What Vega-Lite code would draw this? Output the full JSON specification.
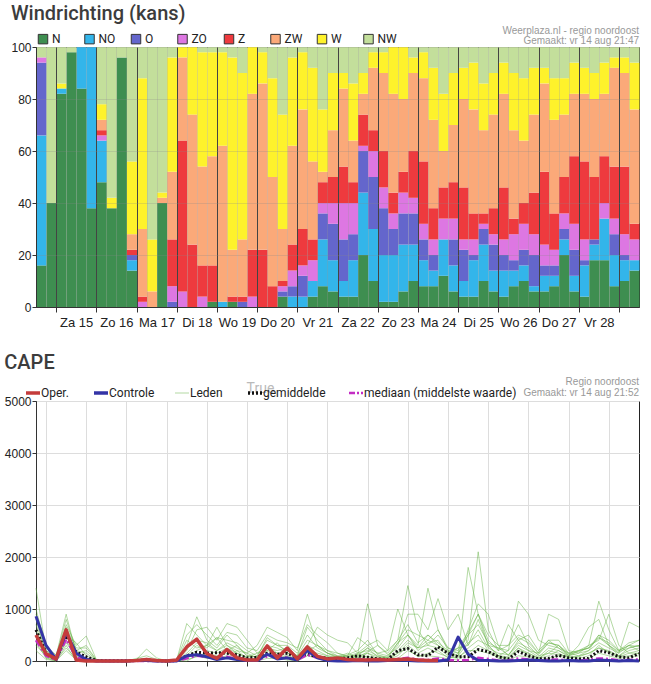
{
  "$schema": "https://vega.github.io/schema/vega-lite/v6.json",
  "background": "white",
  "padding": {"left": 3, "top": 3, "right": 10, "bottom": 3},
  "config": {
    "view": {"stroke": "#222", "strokeWidth": 1},
    "font": "Liberation Sans",
    "axis": {"labelFont": "Liberation Sans", "labelFontSize": 12, "labelColor": "#222", "domainColor": "#333", "tickColor": "#333", "tickSize": 4, "labelPadding": 1},
    "title": {"font": "Roboto", "fontSize": 20, "fontWeight": 500, "color": "#3c3c3c", "anchor": "start", "frame": "bounds"},
    "concat": {"spacing": 22}
  },
  "resolve": {"scale": {"color": "independent", "x": "independent", "y": "independent"}, "legend": {"color": "independent"}},
  "vconcat": [
    {
      "width": 603,
      "height": 260,
      "title": {"text": "Windrichting (kans)", "offset": 2},
      "layer": [
        {
          "data": {
            "values": [
              {"uur": 12, "N": 16, "NO": 50, "O": 28, "ZO": 2, "Z": 0, "ZW": 0, "W": 0, "NW": 4},
              {"uur": 18, "N": 40, "NO": 0, "O": 0, "ZO": 0, "Z": 0, "ZW": 0, "W": 0, "NW": 60},
              {"uur": 24, "N": 82, "NO": 2, "O": 0, "ZO": 0, "Z": 0, "ZW": 0, "W": 2, "NW": 14},
              {"uur": 30, "N": 98, "NO": 0, "O": 0, "ZO": 0, "Z": 0, "ZW": 0, "W": 0, "NW": 2},
              {"uur": 36, "N": 84, "NO": 16, "O": 0, "ZO": 0, "Z": 0, "ZW": 0, "W": 0, "NW": 0},
              {"uur": 42, "N": 38, "NO": 62, "O": 0, "ZO": 0, "Z": 0, "ZW": 0, "W": 0, "NW": 0},
              {"uur": 48, "N": 48, "NO": 16, "O": 0, "ZO": 2, "Z": 2, "ZW": 4, "W": 6, "NW": 22},
              {"uur": 54, "N": 38, "NO": 0, "O": 0, "ZO": 0, "Z": 0, "ZW": 0, "W": 4, "NW": 58},
              {"uur": 60, "N": 96, "NO": 0, "O": 0, "ZO": 0, "Z": 0, "ZW": 0, "W": 0, "NW": 4},
              {"uur": 66, "N": 14, "NO": 4, "O": 2, "ZO": 0, "Z": 2, "ZW": 6, "W": 28, "NW": 44},
              {"uur": 72, "N": 0, "NO": 0, "O": 0, "ZO": 2, "Z": 2, "ZW": 26, "W": 58, "NW": 12},
              {"uur": 78, "N": 0, "NO": 0, "O": 0, "ZO": 0, "Z": 0, "ZW": 6, "W": 20, "NW": 74},
              {"uur": 84, "N": 40, "NO": 0, "O": 0, "ZO": 0, "Z": 0, "ZW": 2, "W": 2, "NW": 56},
              {"uur": 90, "N": 0, "NO": 0, "O": 2, "ZO": 6, "Z": 18, "ZW": 26, "W": 44, "NW": 4},
              {"uur": 96, "N": 0, "NO": 0, "O": 0, "ZO": 6, "Z": 58, "ZW": 32, "W": 4, "NW": 0},
              {"uur": 102, "N": 0, "NO": 0, "O": 0, "ZO": 0, "Z": 24, "ZW": 50, "W": 26, "NW": 0},
              {"uur": 108, "N": 0, "NO": 0, "O": 0, "ZO": 4, "Z": 12, "ZW": 38, "W": 44, "NW": 2},
              {"uur": 114, "N": 2, "NO": 0, "O": 0, "ZO": 0, "Z": 14, "ZW": 42, "W": 40, "NW": 2},
              {"uur": 120, "N": 0, "NO": 2, "O": 0, "ZO": 0, "Z": 0, "ZW": 60, "W": 36, "NW": 2},
              {"uur": 126, "N": 2, "NO": 0, "O": 0, "ZO": 0, "Z": 2, "ZW": 18, "W": 74, "NW": 4},
              {"uur": 132, "N": 0, "NO": 0, "O": 2, "ZO": 0, "Z": 2, "ZW": 22, "W": 64, "NW": 10},
              {"uur": 138, "N": 0, "NO": 0, "O": 0, "ZO": 4, "Z": 18, "ZW": 60, "W": 18, "NW": 0},
              {"uur": 144, "N": 0, "NO": 0, "O": 0, "ZO": 0, "Z": 22, "ZW": 64, "W": 12, "NW": 2},
              {"uur": 150, "N": 0, "NO": 0, "O": 0, "ZO": 0, "Z": 8, "ZW": 42, "W": 38, "NW": 12},
              {"uur": 156, "N": 4, "NO": 0, "O": 2, "ZO": 2, "Z": 2, "ZW": 20, "W": 44, "NW": 26},
              {"uur": 162, "N": 0, "NO": 4, "O": 4, "ZO": 6, "Z": 10, "ZW": 38, "W": 34, "NW": 4},
              {"uur": 168, "N": 0, "NO": 4, "O": 8, "ZO": 4, "Z": 14, "ZW": 46, "W": 22, "NW": 2},
              {"uur": 174, "N": 4, "NO": 6, "O": 0, "ZO": 8, "Z": 8, "ZW": 30, "W": 36, "NW": 8},
              {"uur": 180, "N": 8, "NO": 18, "O": 10, "ZO": 4, "Z": 8, "ZW": 4, "W": 24, "NW": 24},
              {"uur": 186, "N": 6, "NO": 12, "O": 14, "ZO": 8, "Z": 10, "ZW": 18, "W": 22, "NW": 10},
              {"uur": 192, "N": 4, "NO": 6, "O": 16, "ZO": 14, "Z": 14, "ZW": 30, "W": 6, "NW": 10},
              {"uur": 198, "N": 4, "NO": 14, "O": 10, "ZO": 12, "Z": 8, "ZW": 16, "W": 22, "NW": 14},
              {"uur": 204, "N": 20, "NO": 24, "O": 16, "ZO": 2, "Z": 12, "ZW": 8, "W": 8, "NW": 10},
              {"uur": 210, "N": 10, "NO": 20, "O": 20, "ZO": 10, "Z": 8, "ZW": 24, "W": 6, "NW": 2},
              {"uur": 216, "N": 2, "NO": 18, "O": 18, "ZO": 8, "Z": 14, "ZW": 30, "W": 8, "NW": 2},
              {"uur": 222, "N": 2, "NO": 18, "O": 10, "ZO": 6, "Z": 8, "ZW": 38, "W": 18, "NW": 0},
              {"uur": 228, "N": 6, "NO": 18, "O": 12, "ZO": 8, "Z": 8, "ZW": 28, "W": 20, "NW": 0},
              {"uur": 234, "N": 10, "NO": 14, "O": 12, "ZO": 6, "Z": 18, "ZW": 30, "W": 6, "NW": 4},
              {"uur": 240, "N": 8, "NO": 10, "O": 8, "ZO": 6, "Z": 24, "ZW": 32, "W": 10, "NW": 2},
              {"uur": 246, "N": 8, "NO": 6, "O": 6, "ZO": 6, "Z": 12, "ZW": 34, "W": 20, "NW": 8},
              {"uur": 252, "N": 12, "NO": 14, "O": 0, "ZO": 8, "Z": 12, "ZW": 14, "W": 22, "NW": 18},
              {"uur": 258, "N": 6, "NO": 10, "O": 10, "ZO": 8, "Z": 14, "ZW": 22, "W": 20, "NW": 10},
              {"uur": 264, "N": 4, "NO": 6, "O": 12, "ZO": 4, "Z": 20, "ZW": 34, "W": 12, "NW": 8},
              {"uur": 270, "N": 4, "NO": 14, "O": 2, "ZO": 6, "Z": 10, "ZW": 40, "W": 18, "NW": 6},
              {"uur": 276, "N": 10, "NO": 14, "O": 6, "ZO": 2, "Z": 4, "ZW": 32, "W": 18, "NW": 14},
              {"uur": 282, "N": 6, "NO": 8, "O": 10, "ZO": 4, "Z": 10, "ZW": 36, "W": 16, "NW": 10},
              {"uur": 288, "N": 4, "NO": 10, "O": 6, "ZO": 6, "Z": 20, "ZW": 36, "W": 12, "NW": 6},
              {"uur": 294, "N": 8, "NO": 6, "O": 4, "ZO": 10, "Z": 6, "ZW": 34, "W": 22, "NW": 10},
              {"uur": 300, "N": 10, "NO": 6, "O": 6, "ZO": 10, "Z": 8, "ZW": 24, "W": 24, "NW": 12},
              {"uur": 306, "N": 6, "NO": 2, "O": 12, "ZO": 8, "Z": 16, "ZW": 30, "W": 18, "NW": 8},
              {"uur": 312, "N": 6, "NO": 6, "O": 4, "ZO": 8, "Z": 28, "ZW": 34, "W": 6, "NW": 8},
              {"uur": 318, "N": 8, "NO": 4, "O": 4, "ZO": 6, "Z": 14, "ZW": 36, "W": 16, "NW": 12},
              {"uur": 324, "N": 20, "NO": 6, "O": 4, "ZO": 6, "Z": 14, "ZW": 24, "W": 14, "NW": 12},
              {"uur": 330, "N": 6, "NO": 6, "O": 10, "ZO": 10, "Z": 26, "ZW": 24, "W": 12, "NW": 6},
              {"uur": 336, "N": 4, "NO": 12, "O": 2, "ZO": 8, "Z": 30, "ZW": 26, "W": 10, "NW": 8},
              {"uur": 342, "N": 18, "NO": 6, "O": 2, "ZO": 0, "Z": 24, "ZW": 30, "W": 10, "NW": 10},
              {"uur": 348, "N": 18, "NO": 16, "O": 0, "ZO": 6, "Z": 18, "ZW": 24, "W": 12, "NW": 6},
              {"uur": 354, "N": 8, "NO": 12, "O": 8, "ZO": 6, "Z": 20, "ZW": 38, "W": 4, "NW": 4},
              {"uur": 360, "N": 10, "NO": 8, "O": 2, "ZO": 8, "Z": 26, "ZW": 36, "W": 6, "NW": 4},
              {"uur": 366, "N": 14, "NO": 4, "O": 0, "ZO": 8, "Z": 6, "ZW": 44, "W": 18, "NW": 6}
            ]
          },
          "transform": [
            {"fold": ["N", "NO", "O", "ZO", "Z", "ZW", "W", "NW"], "as": ["richting", "kans"]},
            {
              "lookup": "richting",
              "from": {
                "data": {"values": [
                  {"richting": "N", "volgorde": 1},
                  {"richting": "NO", "volgorde": 2},
                  {"richting": "O", "volgorde": 3},
                  {"richting": "ZO", "volgorde": 4},
                  {"richting": "Z", "volgorde": 5},
                  {"richting": "ZW", "volgorde": 6},
                  {"richting": "W", "volgorde": 7},
                  {"richting": "NW", "volgorde": 8}
                ]},
                "key": "richting",
                "fields": ["volgorde"]
              }
            }
          ],
          "mark": {"type": "bar", "binSpacing": 0},
          "encoding": {
            "x": {
              "field": "uur",
              "type": "quantitative",
              "bin": {"step": 6, "extent": [12, 372]},
              "title": null,
              "scale": {"domain": [12, 372], "nice": false, "zero": false},
              "axis": {
                "values": [18, 24, 30, 36, 42, 48, 54, 60, 66, 72, 78, 84, 90, 96, 102, 108, 114, 120, 126, 132, 138, 144, 150, 156, 162, 168, 174, 180, 186, 192, 198, 204, 210, 216, 222, 228, 234, 240, 246, 252, 258, 264, 270, 276, 282, 288, 294, 300, 306, 312, 318, 324, 330, 336, 342, 348, 354, 360, 366],
                "grid": true,
                "zindex": 1,
                "gridColor": {"condition": {"test": "datum.value % 24 == 0", "value": "#444"}, "value": "#888"},
                "gridOpacity": {"condition": {"test": "datum.value % 24 == 0", "value": 1}, "value": 0.25},
                "tickOpacity": {"condition": {"test": "datum.value % 24 == 0", "value": 1}, "value": 0},
                "tickSize": 5,
                "labelOverlap": false,
                "labelFlush": false,
                "labelPadding": 4,
                "labelFontSize": 13,
                "labelExpr": "datum.value % 24 == 12 ? ['Zo','Ma','Di','Wo','Do','Vr','Za'][(5 + floor(datum.value / 24)) % 7] + ' ' + (14 + floor(datum.value / 24)) : ''"
              }
            },
            "y": {
              "field": "kans",
              "type": "quantitative",
              "stack": "zero",
              "title": null,
              "scale": {"domain": [0, 100], "nice": false},
              "axis": {"values": [0, 10, 20, 30, 40, 50, 60, 70, 80, 90, 100], "grid": true, "zindex": 1, "gridColor": "#888", "gridOpacity": 0.25}
            },
            "order": {"field": "volgorde", "type": "quantitative", "sort": "ascending"},
            "color": {
              "field": "richting",
              "type": "nominal",
              "sort": ["N", "NO", "O", "ZO", "Z", "ZW", "W", "NW"],
              "scale": {
                "domain": ["N", "NO", "O", "ZO", "Z", "ZW", "W", "NW"],
                "range": ["#3e8e50", "#33b5ea", "#6466cc", "#dd77e2", "#ee3a3e", "#fba979", "#fef22b", "#c3df9b"]
              },
              "legend": {
                "title": null,
                "values": ["N", "NO", "O", "ZO", "Z", "ZW", "W", "NW"],
                "orient": "none",
                "legendX": 1,
                "legendY": -14,
                "direction": "horizontal",
                "columns": 8,
                "gridAlign": "all",
                "columnPadding": 10.5,
                "symbolType": "square",
                "symbolSize": 90,
                "symbolStrokeColor": "#333",
                "symbolStrokeWidth": 1,
                "symbolOpacity": 1,
                "labelFont": "Roboto",
                "labelFontSize": 12,
                "labelColor": "#222",
                "labelOffset": 3
              }
            }
          }
        },
        {
          "data": {"values": [{}]},
          "mark": {"type": "text", "align": "right", "baseline": "middle", "dy": -16, "font": "Liberation Sans", "fontSize": 10, "color": "#999"},
          "encoding": {
            "x": {"datum": 372},
            "y": {"datum": 100},
            "text": {"value": "Weerplaza.nl - regio noordoost"}
          }
        },
        {
          "data": {"values": [{}]},
          "mark": {"type": "text", "align": "right", "baseline": "middle", "dy": -6, "font": "Liberation Sans", "fontSize": 10, "color": "#999"},
          "encoding": {
            "x": {"datum": 372},
            "y": {"datum": 100},
            "text": {"value": "Gemaakt: vr 14 aug 21:47"}
          }
        }
      ]
    },
    {
      "width": 603,
      "height": 260,
      "title": {"text": "CAPE", "offset": 4},
      "layer": [
        {
          "data": {
            "values": [
              {"uur": 12, "oper": 500, "controle": 860, "gem": 600, "med": 400, "l1": 1400, "l2": 900, "l3": 600, "l4": 400, "l5": 300, "l6": 700, "l7": 500, "l8": 1000, "l9": 200, "l10": 800, "l11": 450, "l12": 350},
              {"uur": 18, "oper": 140, "controle": 300, "gem": 150, "med": 100, "l1": 200, "l2": 300, "l3": 150, "l4": 80, "l5": 100, "l6": 200, "l7": 50, "l8": 250, "l9": 30, "l10": 150, "l11": 120, "l12": 60},
              {"uur": 24, "oper": 40, "controle": 30, "gem": 30, "med": 20, "l1": 60, "l2": 100, "l3": 40, "l4": 20, "l5": 0, "l6": 80, "l7": 0, "l8": 120, "l9": 0, "l10": 50, "l11": 30, "l12": 10},
              {"uur": 30, "oper": 600, "controle": 550, "gem": 480, "med": 420, "l1": 700, "l2": 900, "l3": 500, "l4": 600, "l5": 400, "l6": 800, "l7": 300, "l8": 650, "l9": 200, "l10": 550, "l11": 350, "l12": 250},
              {"uur": 36, "oper": 20, "controle": 150, "gem": 170, "med": 60, "l1": 300, "l2": 150, "l3": 350, "l4": 100, "l5": 50, "l6": 200, "l7": 0, "l8": 250, "l9": 20, "l10": 200, "l11": 80, "l12": 40},
              {"uur": 42, "oper": 0, "controle": 30, "gem": 80, "med": 30, "l1": 480, "l2": 200, "l3": 100, "l4": 50, "l5": 30, "l6": 300, "l7": 0, "l8": 250, "l9": 0, "l10": 150, "l11": 60, "l12": 20},
              {"uur": 48, "oper": 0, "controle": 0, "gem": 10, "med": 0, "l1": 30, "l2": 20, "l3": 10, "l4": 0, "l5": 0, "l6": 20, "l7": 0, "l8": 30, "l9": 0, "l10": 10, "l11": 0, "l12": 0},
              {"uur": 54, "oper": 0, "controle": 0, "gem": 5, "med": 0, "l1": 0, "l2": 0, "l3": 0, "l4": 0, "l5": 0, "l6": 0, "l7": 0, "l8": 0, "l9": 0, "l10": 0, "l11": 0, "l12": 0},
              {"uur": 60, "oper": 0, "controle": 0, "gem": 5, "med": 0, "l1": 0, "l2": 0, "l3": 0, "l4": 0, "l5": 0, "l6": 0, "l7": 0, "l8": 0, "l9": 0, "l10": 0, "l11": 0, "l12": 0},
              {"uur": 66, "oper": 0, "controle": 0, "gem": 5, "med": 0, "l1": 10, "l2": 0, "l3": 0, "l4": 0, "l5": 0, "l6": 0, "l7": 0, "l8": 0, "l9": 0, "l10": 0, "l11": 0, "l12": 0},
              {"uur": 72, "oper": 10, "controle": 10, "gem": 10, "med": 0, "l1": 20, "l2": 30, "l3": 0, "l4": 0, "l5": 0, "l6": 0, "l7": 0, "l8": 50, "l9": 0, "l10": 0, "l11": 0, "l12": 0},
              {"uur": 78, "oper": 30, "controle": 10, "gem": 20, "med": 0, "l1": 50, "l2": 230, "l3": 20, "l4": 0, "l5": 0, "l6": 0, "l7": 0, "l8": 100, "l9": 0, "l10": 50, "l11": 20, "l12": 0},
              {"uur": 84, "oper": 10, "controle": 0, "gem": 5, "med": 0, "l1": 10, "l2": 60, "l3": 0, "l4": 0, "l5": 0, "l6": 0, "l7": 0, "l8": 30, "l9": 0, "l10": 0, "l11": 0, "l12": 0},
              {"uur": 90, "oper": 0, "controle": 0, "gem": 0, "med": 0, "l1": 0, "l2": 0, "l3": 0, "l4": 0, "l5": 0, "l6": 0, "l7": 0, "l8": 0, "l9": 0, "l10": 0, "l11": 0, "l12": 0},
              {"uur": 96, "oper": 20, "controle": 0, "gem": 10, "med": 0, "l1": 0, "l2": 20, "l3": 10, "l4": 0, "l5": 0, "l6": 0, "l7": 0, "l8": 30, "l9": 0, "l10": 0, "l11": 0, "l12": 0},
              {"uur": 102, "oper": 270, "controle": 100, "gem": 100, "med": 50, "l1": 300, "l2": 720, "l3": 200, "l4": 100, "l5": 50, "l6": 400, "l7": 0, "l8": 500, "l9": 30, "l10": 250, "l11": 150, "l12": 80},
              {"uur": 108, "oper": 420, "controle": 120, "gem": 170, "med": 100, "l1": 850, "l2": 500, "l3": 600, "l4": 300, "l5": 150, "l6": 250, "l7": 100, "l8": 700, "l9": 80, "l10": 400, "l11": 350, "l12": 200},
              {"uur": 114, "oper": 140, "controle": 80, "gem": 150, "med": 80, "l1": 400, "l2": 300, "l3": 650, "l4": 200, "l5": 100, "l6": 300, "l7": 50, "l8": 500, "l9": 150, "l10": 350, "l11": 250, "l12": 300},
              {"uur": 120, "oper": 50, "controle": 30, "gem": 160, "med": 60, "l1": 250, "l2": 650, "l3": 400, "l4": 150, "l5": 80, "l6": 450, "l7": 50, "l8": 300, "l9": 100, "l10": 200, "l11": 450, "l12": 200},
              {"uur": 126, "oper": 220, "controle": 60, "gem": 150, "med": 80, "l1": 500, "l2": 300, "l3": 720, "l4": 250, "l5": 150, "l6": 400, "l7": 100, "l8": 550, "l9": 60, "l10": 350, "l11": 200, "l12": 300},
              {"uur": 132, "oper": 60, "controle": 30, "gem": 120, "med": 40, "l1": 300, "l2": 200, "l3": 650, "l4": 150, "l5": 100, "l6": 350, "l7": 50, "l8": 500, "l9": 200, "l10": 250, "l11": 300, "l12": 150},
              {"uur": 138, "oper": 20, "controle": 10, "gem": 60, "med": 10, "l1": 100, "l2": 150, "l3": 400, "l4": 60, "l5": 30, "l6": 200, "l7": 0, "l8": 250, "l9": 50, "l10": 150, "l11": 100, "l12": 80},
              {"uur": 144, "oper": 20, "controle": 10, "gem": 70, "med": 10, "l1": 80, "l2": 300, "l3": 150, "l4": 50, "l5": 20, "l6": 100, "l7": 0, "l8": 200, "l9": 30, "l10": 60, "l11": 80, "l12": 150},
              {"uur": 150, "oper": 290, "controle": 130, "gem": 150, "med": 90, "l1": 450, "l2": 650, "l3": 200, "l4": 300, "l5": 100, "l6": 400, "l7": 50, "l8": 500, "l9": 150, "l10": 250, "l11": 200, "l12": 300},
              {"uur": 156, "oper": 60, "controle": 40, "gem": 130, "med": 110, "l1": 300, "l2": 550, "l3": 150, "l4": 250, "l5": 100, "l6": 300, "l7": 50, "l8": 400, "l9": 80, "l10": 200, "l11": 350, "l12": 150},
              {"uur": 162, "oper": 250, "controle": 60, "gem": 150, "med": 60, "l1": 200, "l2": 450, "l3": 100, "l4": 150, "l5": 80, "l6": 300, "l7": 20, "l8": 350, "l9": 50, "l10": 250, "l11": 150, "l12": 200},
              {"uur": 168, "oper": 40, "controle": 20, "gem": 60, "med": 20, "l1": 100, "l2": 200, "l3": 50, "l4": 80, "l5": 20, "l6": 150, "l7": 0, "l8": 250, "l9": 30, "l10": 100, "l11": 100, "l12": 60},
              {"uur": 174, "oper": 270, "controle": 200, "gem": 130, "med": 120, "l1": 650, "l2": 900, "l3": 300, "l4": 200, "l5": 150, "l6": 500, "l7": 100, "l8": 700, "l9": 250, "l10": 400, "l11": 300, "l12": 200},
              {"uur": 180, "oper": 90, "controle": 60, "gem": 80, "med": 60, "l1": 400, "l2": 300, "l3": 650, "l4": 150, "l5": 100, "l6": 250, "l7": 50, "l8": 500, "l9": 100, "l10": 300, "l11": 200, "l12": 300},
              {"uur": 186, "oper": 40, "controle": 10, "gem": 50, "med": 20, "l1": 200, "l2": 150, "l3": 500, "l4": 100, "l5": 50, "l6": 150, "l7": 20, "l8": 350, "l9": 80, "l10": 200, "l11": 100, "l12": 150},
              {"uur": 192, "oper": 60, "controle": 0, "gem": 40, "med": 10, "l1": 100, "l2": 80, "l3": 400, "l4": 50, "l5": 30, "l6": 60, "l7": 0, "l8": 150, "l9": 40, "l10": 150, "l11": 80, "l12": 100},
              {"uur": 198, "oper": 30, "controle": 0, "gem": 60, "med": 10, "l1": 80, "l2": 100, "l3": 350, "l4": 30, "l5": 20, "l6": 120, "l7": 0, "l8": 80, "l9": 20, "l10": 100, "l11": 150, "l12": 50},
              {"uur": 204, "oper": 20, "controle": 10, "gem": 100, "med": 30, "l1": 120, "l2": 450, "l3": 150, "l4": 100, "l5": 50, "l6": 200, "l7": 20, "l8": 120, "l9": 80, "l10": 150, "l11": 60, "l12": 100},
              {"uur": 210, "oper": 20, "controle": 0, "gem": 70, "med": 30, "l1": 1100, "l2": 300, "l3": 200, "l4": 250, "l5": 150, "l6": 400, "l7": 100, "l8": 250, "l9": 80, "l10": 300, "l11": 180, "l12": 150},
              {"uur": 216, "oper": 30, "controle": 0, "gem": 40, "med": 20, "l1": 300, "l2": 400, "l3": 100, "l4": 80, "l5": 40, "l6": 120, "l7": 20, "l8": 150, "l9": 50, "l10": 150, "l11": 300, "l12": 80},
              {"uur": 222, "oper": 20, "controle": 10, "gem": 30, "med": 10, "l1": 150, "l2": 200, "l3": 80, "l4": 50, "l5": 30, "l6": 60, "l7": 0, "l8": 200, "l9": 20, "l10": 100, "l11": 120, "l12": 60},
              {"uur": 228, "oper": 30, "controle": 20, "gem": 200, "med": 40, "l1": 400, "l2": 1000, "l3": 300, "l4": 200, "l5": 100, "l6": 350, "l7": 50, "l8": 400, "l9": 150, "l10": 350, "l11": 250, "l12": 150},
              {"uur": 234, "oper": 40, "controle": 10, "gem": 240, "med": 60, "l1": 1450, "l2": 500, "l3": 900, "l4": 400, "l5": 300, "l6": 500, "l7": 200, "l8": 700, "l9": 250, "l10": 600, "l11": 500, "l12": 350},
              {"uur": 240, "oper": 20, "controle": 0, "gem": 120, "med": 30, "l1": 600, "l2": 300, "l3": 900, "l4": 250, "l5": 150, "l6": 250, "l7": 100, "l8": 350, "l9": 80, "l10": 500, "l11": 200, "l12": 250},
              {"uur": 246, "oper": 10, "controle": 0, "gem": 100, "med": 20, "l1": 300, "l2": 1400, "l3": 600, "l4": 500, "l5": 250, "l6": 400, "l7": 100, "l8": 500, "l9": 150, "l10": 400, "l11": 350, "l12": 300},
              {"uur": 252, "oper": 10, "controle": 0, "gem": 270, "med": 50, "l1": 500, "l2": 600, "l3": 1200, "l4": 300, "l5": 150, "l6": 300, "l7": 80, "l8": 350, "l9": 200, "l10": 600, "l11": 400, "l12": 250},
              {"uur": 258, "controle": 20, "gem": 150, "med": 20, "l1": 250, "l2": 200, "l3": 600, "l4": 150, "l5": 80, "l6": 180, "l7": 40, "l8": 200, "l9": 60, "l10": 250, "l11": 120, "l12": 100},
              {"uur": 264, "controle": 460, "gem": 80, "med": 10, "l1": 150, "l2": 100, "l3": 900, "l4": 100, "l5": 50, "l6": 250, "l7": 20, "l8": 150, "l9": 80, "l10": 200, "l11": 250, "l12": 100},
              {"uur": 270, "controle": 130, "gem": 80, "med": 20, "l1": 400, "l2": 1800, "l3": 300, "l4": 600, "l5": 250, "l6": 550, "l7": 150, "l8": 500, "l9": 200, "l10": 500, "l11": 300, "l12": 350},
              {"uur": 276, "controle": 10, "gem": 220, "med": 60, "l1": 2100, "l2": 900, "l3": 800, "l4": 1100, "l5": 400, "l6": 900, "l7": 300, "l8": 700, "l9": 200, "l10": 900, "l11": 600, "l12": 500},
              {"uur": 282, "controle": 10, "gem": 180, "med": 40, "l1": 600, "l2": 400, "l3": 300, "l4": 900, "l5": 300, "l6": 300, "l7": 200, "l8": 350, "l9": 150, "l10": 500, "l11": 250, "l12": 200},
              {"uur": 288, "controle": 0, "gem": 80, "med": 10, "l1": 200, "l2": 200, "l3": 100, "l4": 300, "l5": 100, "l6": 250, "l7": 50, "l8": 250, "l9": 80, "l10": 300, "l11": 150, "l12": 100},
              {"uur": 294, "controle": 0, "gem": 40, "med": 10, "l1": 300, "l2": 700, "l3": 200, "l4": 100, "l5": 50, "l6": 120, "l7": 20, "l8": 200, "l9": 50, "l10": 300, "l11": 120, "l12": 80},
              {"uur": 300, "controle": 10, "gem": 180, "med": 50, "l1": 700, "l2": 400, "l3": 1150, "l4": 400, "l5": 200, "l6": 350, "l7": 100, "l8": 450, "l9": 250, "l10": 500, "l11": 300, "l12": 250},
              {"uur": 306, "controle": 20, "gem": 100, "med": 30, "l1": 300, "l2": 200, "l3": 900, "l4": 500, "l5": 150, "l6": 250, "l7": 80, "l8": 350, "l9": 100, "l10": 400, "l11": 200, "l12": 150},
              {"uur": 312, "controle": 10, "gem": 40, "med": 10, "l1": 100, "l2": 150, "l3": 400, "l4": 200, "l5": 50, "l6": 120, "l7": 20, "l8": 150, "l9": 40, "l10": 150, "l11": 80, "l12": 60},
              {"uur": 318, "controle": 0, "gem": 50, "med": 20, "l1": 150, "l2": 900, "l3": 300, "l4": 400, "l5": 100, "l6": 350, "l7": 50, "l8": 350, "l9": 200, "l10": 400, "l11": 250, "l12": 150},
              {"uur": 324, "controle": 0, "gem": 110, "med": 30, "l1": 300, "l2": 800, "l3": 250, "l4": 250, "l5": 200, "l6": 300, "l7": 100, "l8": 300, "l9": 150, "l10": 400, "l11": 200, "l12": 120},
              {"uur": 330, "controle": 10, "gem": 60, "med": 10, "l1": 100, "l2": 200, "l3": 100, "l4": 150, "l5": 80, "l6": 120, "l7": 40, "l8": 150, "l9": 60, "l10": 150, "l11": 100, "l12": 80},
              {"uur": 336, "controle": 0, "gem": 40, "med": 10, "l1": 200, "l2": 150, "l3": 300, "l4": 100, "l5": 50, "l6": 180, "l7": 20, "l8": 200, "l9": 100, "l10": 200, "l11": 150, "l12": 80},
              {"uur": 342, "controle": 0, "gem": 50, "med": 20, "l1": 300, "l2": 300, "l3": 650, "l4": 200, "l5": 100, "l6": 250, "l7": 50, "l8": 250, "l9": 150, "l10": 250, "l11": 200, "l12": 150},
              {"uur": 348, "controle": 20, "gem": 200, "med": 50, "l1": 1150, "l2": 400, "l3": 800, "l4": 500, "l5": 300, "l6": 450, "l7": 150, "l8": 450, "l9": 250, "l10": 500, "l11": 350, "l12": 250},
              {"uur": 354, "controle": 10, "gem": 160, "med": 40, "l1": 600, "l2": 900, "l3": 300, "l4": 300, "l5": 150, "l6": 300, "l7": 100, "l8": 350, "l9": 200, "l10": 400, "l11": 250, "l12": 180},
              {"uur": 360, "controle": 0, "gem": 80, "med": 10, "l1": 200, "l2": 300, "l3": 150, "l4": 100, "l5": 80, "l6": 180, "l7": 50, "l8": 200, "l9": 100, "l10": 200, "l11": 150, "l12": 80},
              {"uur": 366, "controle": 10, "gem": 60, "med": 20, "l1": 300, "l2": 150, "l3": 750, "l4": 250, "l5": 100, "l6": 250, "l7": 80, "l8": 300, "l9": 200, "l10": 350, "l11": 300, "l12": 150},
              {"uur": 372, "controle": 0, "gem": 140, "med": 30, "l1": 400, "l2": 200, "l3": 650, "l4": 300, "l5": 150, "l6": 300, "l7": 100, "l8": 280, "l9": 250, "l10": 400, "l11": 200, "l12": 150}
            ]
          },
          "transform": [{"fold": ["l1", "l2", "l3", "l4", "l5", "l6", "l7", "l8", "l9", "l10", "l11", "l12", "gem", "med", "controle", "oper"], "as": ["reeks", "cape"]}],
          "encoding": {
            "x": {
              "field": "uur",
              "type": "quantitative",
              "title": null,
              "scale": {"domain": [12, 372], "nice": false, "zero": false},
              "axis": {
                "values": [18, 24, 30, 36, 42, 48, 54, 60, 66, 72, 78, 84, 90, 96, 102, 108, 114, 120, 126, 132, 138, 144, 150, 156, 162, 168, 174, 180, 186, 192, 198, 204, 210, 216, 222, 228, 234, 240, 246, 252, 258, 264, 270, 276, 282, 288, 294, 300, 306, 312, 318, 324, 330, 336, 342, 348, 354, 360, 366],
                "grid": true,
                "gridColor": {"condition": {"test": "datum.value % 24 == 0", "value": "#555"}, "value": "#ddd"},
                "tickSize": 5,
                "labelOverlap": false,
                "labelFlush": false,
                "labelPadding": 4,
                "labelFontSize": 13,
                "labelExpr": "datum.value % 24 == 12 ? ['Zo','Ma','Di','Wo','Do','Vr','Za'][(5 + floor(datum.value / 24)) % 7] + ' ' + (14 + floor(datum.value / 24)) : ''"
              }
            },
            "y": {
              "field": "cape",
              "type": "quantitative",
              "title": null,
              "scale": {"domain": [0, 5000], "nice": false},
              "axis": {
                "values": [0, 250, 500, 750, 1000, 1250, 1500, 1750, 2000, 2250, 2500, 2750, 3000, 3250, 3500, 3750, 4000, 4250, 4500, 4750, 5000],
                "format": "d",
                "labelExpr": "datum.value % 500 == 0 ? datum.label : ''",
                "tickOpacity": {"condition": {"test": "datum.value % 500 == 0", "value": 1}, "value": 0},
                "grid": true,
                "gridColor": "#ddd"
              }
            },
            "color": {
              "field": "reeks",
              "type": "nominal",
              "scale": {
                "domain": ["oper", "controle", "l1", "gem", "med", "l2", "l3", "l4", "l5", "l6", "l7", "l8", "l9", "l10", "l11", "l12"],
                "range": ["#c43c3c", "#3434a6", "rgba(104,180,72,0.5)", "#111111", "#c42cc4", "rgba(104,180,72,0.5)", "rgba(104,180,72,0.5)", "rgba(104,180,72,0.5)", "rgba(104,180,72,0.5)", "rgba(104,180,72,0.5)", "rgba(104,180,72,0.5)", "rgba(104,180,72,0.5)", "rgba(104,180,72,0.5)", "rgba(104,180,72,0.5)", "rgba(104,180,72,0.5)", "rgba(104,180,72,0.5)"]
              },
              "legend": {
                "title": null,
                "values": ["oper", "controle", "l1", "gem", "med"],
                "labelExpr": "datum.label == 'oper' ? 'Oper.' : datum.label == 'controle' ? 'Controle' : datum.label == 'l1' ? 'Leden' : datum.label == 'gem' ? 'gemiddelde' : 'mediaan (middelste waarde)'",
                "orient": "none",
                "legendX": -9,
                "legendY": -14,
                "direction": "horizontal",
                "gridAlign": "none",
                "columnPadding": 18,
                "symbolType": "stroke",
                "symbolSize": 196,
                "labelFont": "Roboto",
                "labelFontSize": 12,
                "labelColor": "#222",
                "labelOffset": 2,
                "encode": {
                  "symbols": {
                    "update": {
                      "strokeWidth": {"signal": "datum.value == 'l1' ? 1 : datum.value == 'med' ? 2.5 : 3.5"},
                      "strokeDash": {"signal": "datum.value == 'gem' ? [2, 2] : datum.value == 'med' ? [6, 2, 2, 2] : [1, 0]"}
                    }
                  }
                }
              }
            }
          },
          "layer": [
            {"transform": [{"filter": "indexof(datum.reeks, 'l') == 0"}], "mark": {"type": "line", "strokeWidth": 1, "strokeJoin": "round"}},
            {"transform": [{"filter": "datum.reeks == 'gem'"}], "mark": {"type": "line", "strokeWidth": 3, "strokeDash": [2, 2], "strokeCap": "butt"}},
            {"transform": [{"filter": "datum.reeks == 'med'"}], "mark": {"type": "line", "strokeWidth": 2.5, "strokeDash": [7, 3, 2, 3], "strokeCap": "butt"}},
            {"transform": [{"filter": "datum.reeks == 'controle'"}], "mark": {"type": "line", "strokeWidth": 3, "strokeJoin": "round"}},
            {"transform": [{"filter": "datum.reeks == 'oper'"}], "mark": {"type": "line", "strokeWidth": 3.5, "strokeJoin": "round"}}
          ]
        },
        {
          "data": {"values": [{}]},
          "mark": {"type": "text", "align": "center", "baseline": "middle", "dy": -12, "font": "Roboto", "fontSize": 14, "color": "#aaa", "opacity": 0.8},
          "encoding": {
            "x": {"datum": 146},
            "y": {"datum": 5000},
            "text": {"value": "True"}
          }
        },
        {
          "data": {"values": [{}]},
          "mark": {"type": "text", "align": "right", "baseline": "middle", "dy": -19, "font": "Liberation Sans", "fontSize": 10, "color": "#999"},
          "encoding": {
            "x": {"datum": 372},
            "y": {"datum": 5000},
            "text": {"value": "Regio noordoost"}
          }
        },
        {
          "data": {"values": [{}]},
          "mark": {"type": "text", "align": "right", "baseline": "middle", "dy": -8, "font": "Liberation Sans", "fontSize": 10, "color": "#999"},
          "encoding": {
            "x": {"datum": 372},
            "y": {"datum": 5000},
            "text": {"value": "Gemaakt: vr 14 aug 21:52"}
          }
        }
      ]
    }
  ]
}
